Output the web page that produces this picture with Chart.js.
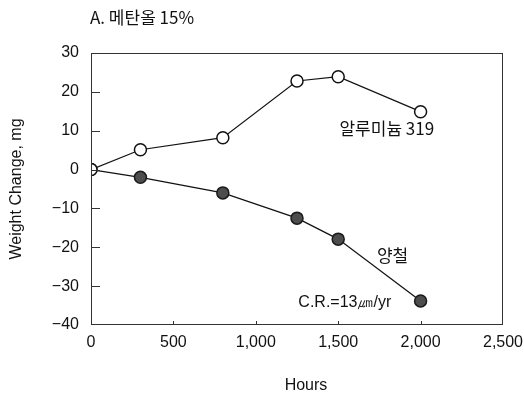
<!DOCTYPE html>
<html>
<head>
<meta charset="utf-8">
<script src="https://cdn.jsdelivr.net/npm/chart.js@4"></script>
<style>
  html, body { margin: 0; padding: 0; background: #fff; }
  .chart-container { width: 524px; height: 395px; }
</style>
</head>
<body>
<div class="chart-container">
  <canvas id="chart" width="524" height="395"></canvas>
</div>
<script>
const hours = [0, 300, 800, 1250, 1500, 2000];
const aluminium = [0, 5.1, 8.2, 22.8, 23.9, 14.9];
const tinplate = [0, -2.0, -6.0, -12.5, -17.9, -33.8];
const xTicks = [0, 500, 1000, 1500, 2000, 2500];
const yTicks = [30, 20, 10, 0, -10, -20, -30, -40];

const numFont = "'Liberation Sans', Arial, sans-serif";
const korFont = "'Noto Sans CJK KR', sans-serif";

function toPoints(ys) {
  return hours.map((h, i) => ({ x: h, y: ys[i] }));
}

// box, inner ticks and text labels
const decor = {
  id: 'decor',
  afterDraw(chart) {
    const { ctx, chartArea: a, scales } = chart;
    const x = scales.x, y = scales.y;
    ctx.save();
    ctx.strokeStyle = '#333';
    ctx.lineWidth = 1;
    ctx.strokeRect(a.left + 0.5, a.top + 0.5, a.right - a.left - 1, a.bottom - a.top - 1);

    ctx.beginPath();
    yTicks.slice(1, -1).forEach(v => {
      const py = Math.round(y.getPixelForValue(v)) + 0.5;
      ctx.moveTo(a.left, py);
      ctx.lineTo(a.left + 9, py);
    });
    xTicks.slice(1, -1).forEach(v => {
      const px = Math.round(x.getPixelForValue(v)) + 0.5;
      ctx.moveTo(px, a.bottom);
      ctx.lineTo(px, a.bottom - 4);
    });
    ctx.stroke();

    ctx.fillStyle = '#111';
    ctx.textBaseline = 'middle';
    ctx.textAlign = 'left';
    ctx.font = '17px ' + korFont;
    ctx.fillText('A. 메탄올 15%', 90, 18);

    ctx.textAlign = 'center';
    ctx.font = '16px ' + numFont;
    ctx.fillText('Hours', 306, 386);

    ctx.font = '17px ' + korFont;
    ctx.fillText('알루미늄 319', x.getPixelForValue(1795), y.getPixelForValue(10.5));
    ctx.fillText('양철', x.getPixelForValue(1830), y.getPixelForValue(-22));
    ctx.font = '16px ' + numFont;
    ctx.fillText('C.R.=13㎛/yr', x.getPixelForValue(1540), y.getPixelForValue(-34.3));
    ctx.restore();
  }
};

function initChart() {
  const ctx = document.getElementById('chart').getContext('2d');
  new Chart(ctx, {
    type: 'line',
    data: {
      datasets: [
        {
          label: '알루미늄 319',
          data: toPoints(aluminium),
          borderColor: '#111',
          borderWidth: 1.2,
          pointRadius: 6,
          pointBorderWidth: 1.5,
          pointBackgroundColor: '#fff',
          pointBorderColor: '#111',
        },
        {
          label: '양철',
          data: toPoints(tinplate),
          borderColor: '#111',
          borderWidth: 1.2,
          pointRadius: 6,
          pointBorderWidth: 1.5,
          pointBackgroundColor: '#4d4d4d',
          pointBorderColor: '#1a1a1a',
        },
      ],
    },
    options: {
      animation: false,
      responsive: false,
      layout: { padding: { top: 53, right: 21, left: 0, bottom: 0 } },
      plugins: {
        legend: { display: false },
        tooltip: { enabled: false },
      },
      scales: {
        x: {
          type: 'linear',
          min: 0,
          max: 2500,
          afterFit(s) { s.height = 70; s.paddingLeft = 0; s.paddingRight = 0; },
          afterBuildTicks(s) { s.ticks = xTicks.map(v => ({ value: v })); },
          grid: { display: false, drawTicks: false },
          border: { display: false },
          ticks: {
            padding: 8,
            color: '#111',
            font: { family: numFont, size: 16 },
            callback: v => v.toLocaleString('en-US'),
          },
        },
        y: {
          min: -40,
          max: 30,
          afterFit(s) { s.width = 91; s.paddingTop = 0; s.paddingBottom = 0; },
          afterBuildTicks(s) { s.ticks = yTicks.map(v => ({ value: v })); },
          grid: { display: false, drawTicks: false },
          border: { display: false },
          ticks: {
            padding: 12,
            color: '#111',
            font: { family: numFont, size: 16 },
            callback: v => String(v).replace('-', '\u2212'),
          },
          title: {
            display: true,
            text: 'Weight Change, mg',
            color: '#111',
            font: { family: numFont, size: 16 },
            padding: { top: 7, bottom: 0 },
          },
        },
      },
    },
    plugins: [decor],
  });
}

initChart();
</script>
</body>
</html>
